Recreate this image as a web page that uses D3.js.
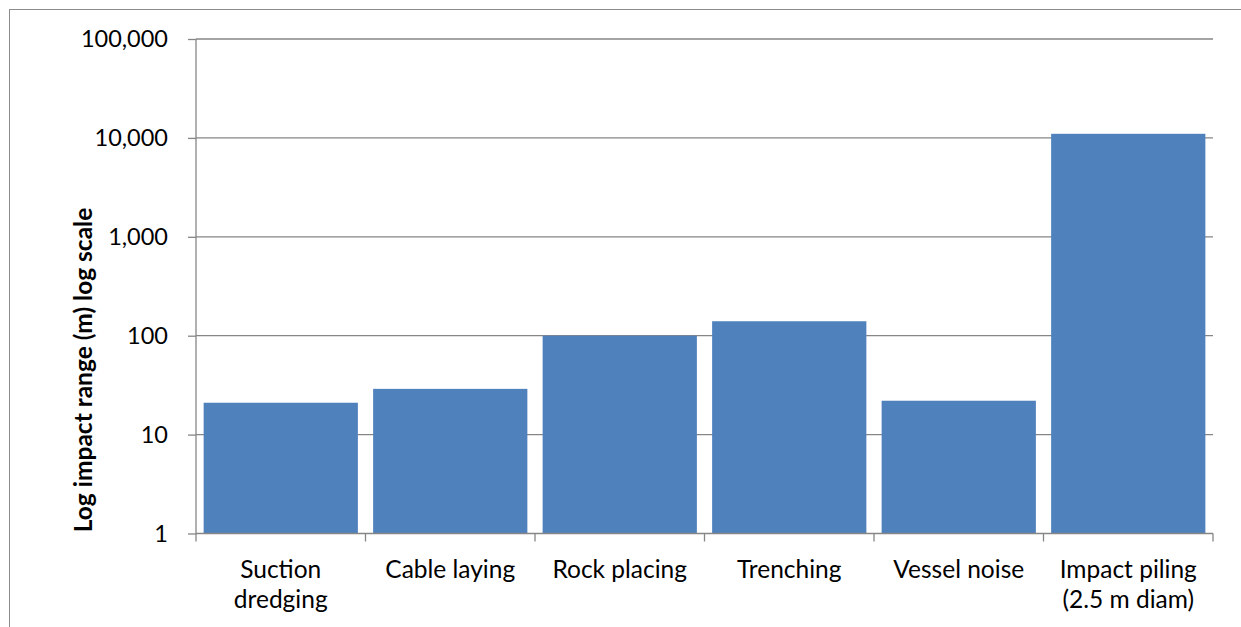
<!DOCTYPE html>
<html>
<head>
<meta charset="utf-8">
<script src="https://cdn.jsdelivr.net/npm/d3@7"></script>
<style>
  html, body { margin: 0; padding: 0; background: #fff; }
  svg { display: block; }
  text { font-family: Lato, "Open Sans", sans-serif; fill: #000; }
</style>
</head>
<body>
<svg id="chart" width="1241" height="627"></svg>
<script>
const categories = [["Suction", "dredging"], ["Cable laying"], ["Rock placing"], ["Trenching"], ["Vessel noise"], ["Impact piling", "(2.5 m diam)"]];
const values = [21, 29, 100, 140, 22, 11000];
const yTicks = [1, 10, 100, 1000, 10000, 100000];
const yTitle = "Log impact range (m) log scale";

const svg = d3.select("#chart");
const plot = { left: 196, right: 1213, top: 39, bottom: 533.5 };

// outer chart border (extends beyond visible area on right/bottom)
svg.append("rect")
  .attr("x", 9.5).attr("y", 9.5)
  .attr("width", 1300).attr("height", 700)
  .attr("fill", "none").attr("stroke", "#8c8c8c").attr("stroke-width", 1);

const labels = categories.map(c => c.join(" "));
const x = d3.scaleBand().domain(labels).range([plot.left, plot.right])
  .paddingInner(0.09).paddingOuter(0.045);
const y = d3.scaleLog().domain([1, 100000]).range([plot.bottom, plot.top]);

// gridlines
svg.append("g").selectAll("line").data(yTicks.filter(d => d > 1)).join("line")
  .attr("x1", plot.left).attr("x2", plot.right)
  .attr("y1", d => y(d)).attr("y2", d => y(d))
  .attr("stroke", "#868686").attr("stroke-width", 1.3);

// bars
svg.append("g").selectAll("rect").data(values).join("rect")
  .attr("x", (d, i) => x(labels[i]))
  .attr("width", x.bandwidth())
  .attr("y", d => y(d))
  .attr("height", d => plot.bottom - y(d))
  .attr("fill", "#4F81BD");

// y axis
const yAxis = d3.axisLeft(y).tickValues(yTicks).tickFormat(d3.format(",")).tickSize(8).tickPadding(20);
const gy = svg.append("g").attr("transform", `translate(${plot.left},0)`).call(yAxis);
gy.select(".domain").attr("stroke", "#868686").attr("stroke-width", 1.3).attr("d", `M0,${plot.top}V${plot.bottom}`);
gy.selectAll(".tick line").attr("stroke", "#868686").attr("stroke-width", 1.3);
gy.selectAll(".tick text").style("font-size", "23.5px").attr("fill", "#000");

// x axis
const gx = svg.append("g").attr("transform", `translate(0,${plot.bottom})`);
gx.append("line").attr("x1", plot.left).attr("x2", plot.right).attr("y1", 0).attr("y2", 0)
  .attr("stroke", "#868686").attr("stroke-width", 1.3);
const boundaries = d3.range(labels.length + 1).map(i => plot.left + i * (plot.right - plot.left) / labels.length);
gx.selectAll("line.tk").data(boundaries).join("line").attr("class", "tk")
  .attr("x1", d => d).attr("x2", d => d).attr("y1", 0).attr("y2", 8)
  .attr("stroke", "#868686").attr("stroke-width", 1.3);
categories.forEach((lines, i) => {
  const cx = x(labels[i]) + x.bandwidth() / 2;
  const t = gx.append("text").attr("text-anchor", "middle").style("font-size", "24.5px")
    .attr("x", cx).attr("y", 44);
  lines.forEach((ln, j) => {
    t.append("tspan").attr("x", cx).attr("dy", j === 0 ? 0 : 30).text(ln);
  });
});

// y title
svg.append("text")
  .attr("transform", `translate(92,370) rotate(-90)`)
  .attr("text-anchor", "middle")
  .style("font-size", "24.5px").style("font-weight", "bold")
  .text(yTitle);
</script>
</body>
</html>
